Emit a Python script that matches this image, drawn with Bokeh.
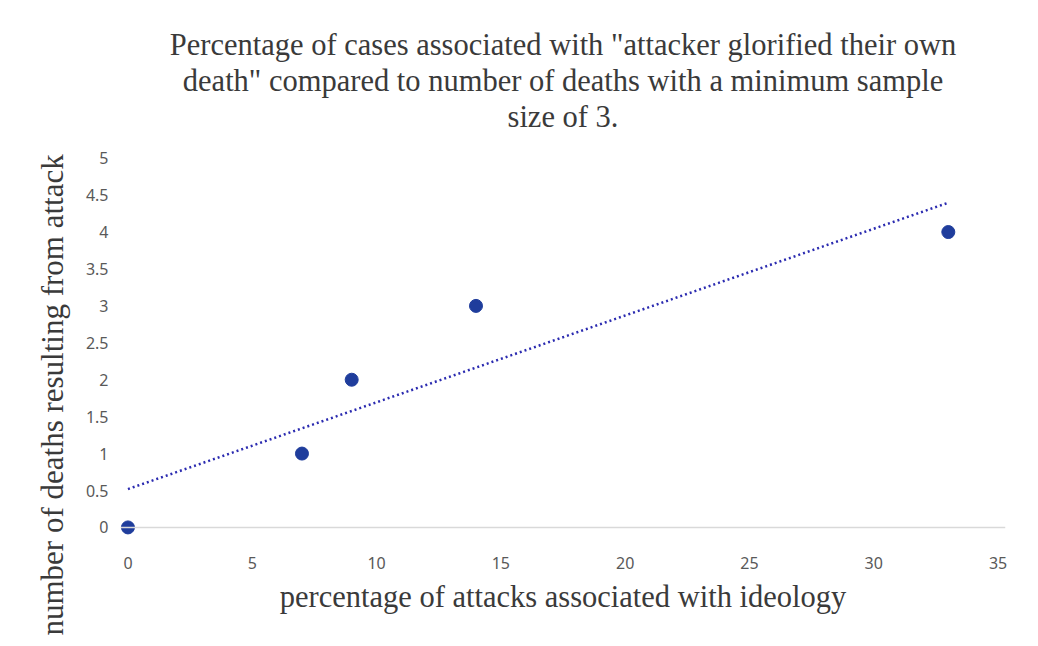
import numpy as np
from bokeh.plotting import figure
from bokeh.models import Range1d, Span, FixedTicker, Title
from bokeh.embed import file_html
from bokeh.resources import INLINE

# Data
pct_attacks = [0, 7, 9, 14, 33]
num_deaths = [0, 1, 2, 3, 4]
x_ticks = [0, 5, 10, 15, 20, 25, 30, 35]
y_ticks = [0, 0.5, 1, 1.5, 2, 2.5, 3, 3.5, 4, 4.5, 5]
title_lines = ['Percentage of cases associated with "attacker glorified their own',
               'death" compared to number of deaths with a minimum sample',
               'size of 3.']
x_title = "percentage of attacks associated with ideology"
y_title = "number of deaths resulting from attack"

# Linear trendline (least squares) from the data
xs = np.array(pct_attacks, dtype=float)
ys = np.array(num_deaths, dtype=float)
slope, intercept = np.polyfit(xs, ys, 1)
trend_x = [xs.min(), xs.max()]
trend_y = [intercept + slope * v for v in trend_x]

p = figure(width=1022, height=646, output_backend="svg", toolbar_location=None,
           x_range=Range1d(-0.3, 35.3), y_range=Range1d(-0.15, 5.05),
           min_border_left=120, min_border_right=17, min_border_top=154,
           min_border_bottom=108, title=None)
p.outline_line_color = None
p.xgrid.visible = False
p.ygrid.visible = False
p.background_fill_color = "white"
p.border_fill_color = "white"

# spacer between plot frame and title block
p.add_layout(Title(text=" ", text_font_size="17px", standoff=0), "above")
for line in reversed(title_lines):
    t = Title(text=line, align="center", text_font="Liberation Serif",
              text_font_size="30.5px", text_font_style="normal", text_color="#3a3a3a",
              standoff=0)
    p.add_layout(t, "above")

for ax in (p.xaxis[0], p.yaxis[0]):
    ax.axis_line_color = None
    ax.major_tick_line_color = None
    ax.minor_tick_line_color = None
    ax.major_label_text_font = "Noto Sans"
    ax.major_label_text_font_size = "16px"
    ax.major_label_text_color = "#595959"

p.xaxis[0].ticker = FixedTicker(ticks=x_ticks)
p.yaxis[0].ticker = FixedTicker(ticks=y_ticks)
p.xaxis[0].major_label_standoff = 12
p.yaxis[0].major_label_standoff = 6

p.xaxis[0].axis_label = x_title
p.xaxis[0].axis_label_text_font = "Liberation Serif"
p.xaxis[0].axis_label_text_font_size = "30.5px"
p.xaxis[0].axis_label_text_font_style = "normal"
p.xaxis[0].axis_label_text_color = "#3a3a3a"
p.xaxis[0].axis_label_standoff = 8

ytitle = Title(text=y_title, align="left", offset=-97, text_font="Liberation Serif",
               text_font_size="31px", text_font_style="normal", text_color="#3a3a3a",
               standoff=26)
p.add_layout(ytitle, "left")

p.add_layout(Span(location=0, dimension="width", line_color="#d9d9d9", line_width=1.5))

p.line(trend_x, trend_y, line_color="#2b2bb0", line_width=2.5, line_dash="2 3")
p.scatter(pct_attacks, num_deaths, size=13, fill_color="#1f3d9c", line_color="#1f3d9c")

open("out.html", "w").write(file_html(p, INLINE))
